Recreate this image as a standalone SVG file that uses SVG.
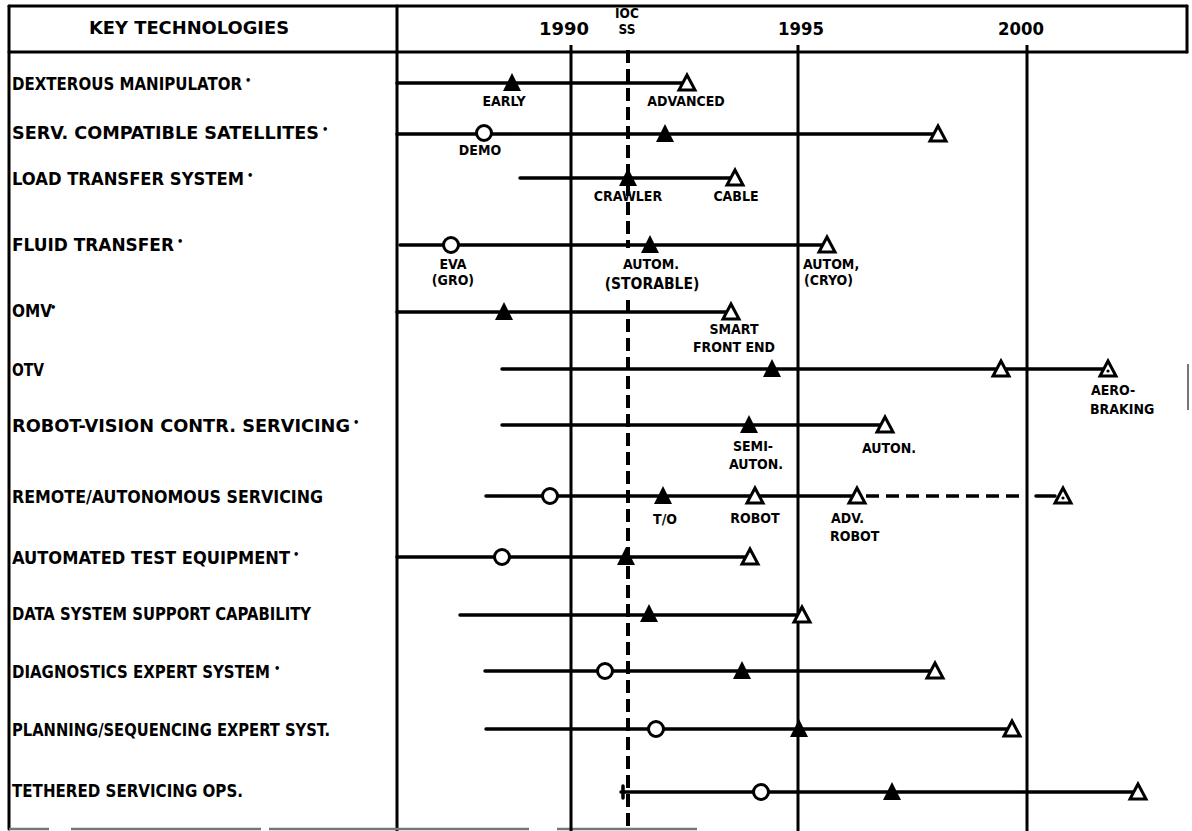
<svg xmlns="http://www.w3.org/2000/svg" xmlns:xlink="http://www.w3.org/1999/xlink" width="1192" height="831" viewBox="0 0 1192 831">
<style>
.bg{fill:#ffffff}
.frame{stroke:#000;stroke-width:3;fill:none;stroke-linecap:round}
.grid{stroke:#000;stroke-width:3;fill:none}
.ioc{stroke:#000;stroke-width:4;fill:none;stroke-dasharray:13 6}
.bar{stroke:#000;stroke-width:3.5;fill:none;stroke-linecap:round}
.dash{stroke:#000;stroke-width:3.5;fill:none;stroke-dasharray:13 7}
.lbl{font-family:"Liberation Sans Narrow","DejaVu Sans Condensed","Liberation Sans",sans-serif;font-weight:bold;font-size:17px;fill:#000}
.bul{font-family:"Liberation Sans Narrow","DejaVu Sans Condensed","Liberation Sans",sans-serif;font-weight:bold;font-size:11px;fill:#000}
.hdr{font-family:"Liberation Sans Narrow","DejaVu Sans Condensed","Liberation Sans",sans-serif;font-weight:bold;font-size:17px;fill:#000;text-anchor:middle}
.ioct{font-family:"Liberation Sans Narrow","DejaVu Sans Condensed","Liberation Sans",sans-serif;font-weight:bold;font-size:13.5px;fill:#000;text-anchor:middle}
.ms{font-family:"Liberation Sans Narrow","DejaVu Sans Condensed","Liberation Sans",sans-serif;font-weight:bold;font-size:14px;fill:#000;text-anchor:middle}
.msb{font-family:"Liberation Sans Narrow","DejaVu Sans Condensed","Liberation Sans",sans-serif;font-weight:bold;font-size:15.5px;fill:#000;text-anchor:middle}
.msl{font-family:"Liberation Sans Narrow","DejaVu Sans Condensed","Liberation Sans",sans-serif;font-weight:bold;font-size:14px;fill:#000}
</style>
<defs>
<path id="tf" d="M0,-10 L9,8 L-9,8 Z" fill="#000"/>
<path id="to" d="M0,-8 L8,7 L-8,7 Z" fill="#fff" stroke="#000" stroke-width="3" stroke-linejoin="miter"/>
<g id="td"><path d="M0,-8 L8,7 L-8,7 Z" fill="#fff" stroke="#000" stroke-width="3"/><circle cx="0" cy="2" r="1.6" fill="#000"/></g>
<circle id="co" r="7.5" fill="#fff" stroke="#000" stroke-width="3"/>
</defs>
<rect class="bg" x="0" y="0" width="1192" height="831"/>

<g id="frame">
<line class="frame" x1="9" y1="6" x2="1187" y2="6"/>
<line class="frame" x1="9" y1="6" x2="9" y2="829"/>
<line class="frame" x1="9" y1="52" x2="1187" y2="52"/>
<line class="frame" x1="397" y1="6" x2="397" y2="831"/>
<line class="frame" x1="1187" y1="6" x2="1187" y2="52"/>
<line x1="1188" y1="364" x2="1188" y2="410" stroke="#777" stroke-width="2"/>
<line x1="9" y1="829" x2="700" y2="829" stroke="#777" stroke-width="2.5" stroke-dasharray="40 22 190 8 260 28 140 30"/>
<text class="hdr" x="189" y="34" textLength="200" lengthAdjust="spacingAndGlyphs">KEY TECHNOLOGIES</text>
<text class="hdr" x="564" y="35" textLength="50" lengthAdjust="spacingAndGlyphs">1990</text>
<text class="ioct" x="627" y="18">IOC</text>
<text class="ioct" x="627" y="34">SS</text>
<text class="hdr" x="801" y="35" textLength="46" lengthAdjust="spacingAndGlyphs">1995</text>
<text class="hdr" x="1021" y="35" textLength="46" lengthAdjust="spacingAndGlyphs">2000</text>
</g>

<g id="grid">
<line class="grid" x1="571" y1="45" x2="571" y2="831"/>
<line class="grid" x1="798" y1="45" x2="798" y2="831"/>
<line class="grid" x1="1027" y1="45" x2="1027" y2="831"/>
<line class="ioc" x1="628" y1="50" x2="628" y2="248"/>
<line class="ioc" x1="628" y1="300" x2="628" y2="831"/>
</g>

<g id="connectors">
<line class="bar" x1="397" y1="83" x2="687" y2="83"/>
<line class="bar" x1="397" y1="134" x2="938" y2="134"/>
<line class="bar" x1="520" y1="178" x2="735" y2="178"/>
<line class="bar" x1="400" y1="245" x2="827" y2="245"/>
<line class="bar" x1="397" y1="312" x2="731" y2="312"/>
<line class="bar" x1="502" y1="369" x2="1108" y2="369"/>
<line class="bar" x1="502" y1="425" x2="885" y2="425"/>
<line class="bar" x1="486" y1="496" x2="860" y2="496"/>
<line class="dash" x1="866" y1="496" x2="1024" y2="496"/>
<line class="bar" x1="1036" y1="496" x2="1055" y2="496"/>
<line class="bar" x1="397" y1="557" x2="750" y2="557"/>
<line class="bar" x1="460" y1="615" x2="802" y2="615"/>
<line class="bar" x1="485" y1="671" x2="935" y2="671"/>
<line class="bar" x1="486" y1="729" x2="1012" y2="729"/>
<line class="bar" x1="621" y1="792" x2="1138" y2="792"/>
<line class="bar" x1="623" y1="786" x2="623" y2="798"/>
</g>

<g id="row-dexterous">
<text class="lbl" x="12" y="90" textLength="230" lengthAdjust="spacingAndGlyphs">DEXTEROUS MANIPULATOR</text>
<text class="bul" x="245" y="84">•</text>
<use href="#tf" x="512" y="83"/>
<use href="#to" x="687" y="83"/>
<text class="ms" x="504" y="106">EARLY</text>
<text class="ms" x="686" y="106">ADVANCED</text>
</g>

<g id="row-serv">
<text class="lbl" x="12" y="139" textLength="307" lengthAdjust="spacingAndGlyphs">SERV. COMPATIBLE SATELLITES</text>
<text class="bul" x="322" y="133">•</text>
<use href="#co" x="484" y="133"/>
<use href="#tf" x="665" y="134"/>
<use href="#to" x="938" y="134"/>
<text class="ms" x="480" y="155">DEMO</text>
</g>

<g id="row-load">
<text class="lbl" x="12" y="185" textLength="232" lengthAdjust="spacingAndGlyphs">LOAD TRANSFER SYSTEM</text>
<text class="bul" x="247" y="179">•</text>
<use href="#tf" x="628" y="178"/>
<use href="#to" x="735" y="178"/>
<text class="ms" x="628" y="201">CRAWLER</text>
<text class="ms" x="736" y="201">CABLE</text>
</g>

<g id="row-fluid">
<text class="lbl" x="12" y="251" textLength="162" lengthAdjust="spacingAndGlyphs">FLUID TRANSFER</text>
<text class="bul" x="177" y="245">•</text>
<use href="#co" x="451" y="245"/>
<use href="#tf" x="650" y="245"/>
<use href="#to" x="827" y="245"/>
<text class="ms" x="453" y="269">EVA</text>
<text class="ms" x="453" y="285">(GRO)</text>
<text class="ms" x="651" y="269">AUTOM.</text>
<text class="msb" x="652" y="289">(STORABLE)</text>
<text class="msl" x="803" y="269">AUTOM,</text>
<text class="msl" x="804" y="285">(CRYO)</text>
</g>

<g id="row-omv">
<text class="lbl" x="12" y="317">OMV</text>
<text class="bul" x="50" y="311">•</text>
<use href="#tf" x="504" y="312"/>
<use href="#to" x="731" y="312"/>
<text class="ms" x="734" y="334">SMART</text>
<text class="ms" x="734" y="352">FRONT END</text>
</g>

<g id="row-otv">
<text class="lbl" x="12" y="376" textLength="32" lengthAdjust="spacingAndGlyphs">OTV</text>
<use href="#tf" x="772" y="369"/>
<use href="#to" x="1001" y="369"/>
<use href="#td" x="1108" y="369"/>
<text class="msl" x="1091" y="395">AERO-</text>
<text class="msl" x="1090" y="414">BRAKING</text>
</g>

<g id="row-robot-vision">
<text class="lbl" x="12" y="432" textLength="338" lengthAdjust="spacingAndGlyphs">ROBOT-VISION CONTR. SERVICING</text>
<text class="bul" x="353" y="426">•</text>
<use href="#tf" x="749" y="425"/>
<use href="#to" x="885" y="425"/>
<text class="ms" x="753" y="451">SEMI-</text>
<text class="ms" x="756" y="469">AUTON.</text>
<text class="ms" x="889" y="453">AUTON.</text>
</g>

<g id="row-remote">
<text class="lbl" x="12" y="503" textLength="311" lengthAdjust="spacingAndGlyphs">REMOTE/AUTONOMOUS SERVICING</text>
<use href="#co" x="550" y="496"/>
<use href="#tf" x="663" y="496"/>
<use href="#to" x="755" y="496"/>
<use href="#to" x="857" y="496"/>
<use href="#td" x="1063" y="496"/>
<text class="ms" x="665" y="524">T/O</text>
<text class="ms" x="755" y="523">ROBOT</text>
<text class="msl" x="831" y="523">ADV.</text>
<text class="msl" x="830" y="541">ROBOT</text>
</g>

<g id="row-ate">
<text class="lbl" x="12" y="564" textLength="278" lengthAdjust="spacingAndGlyphs">AUTOMATED TEST EQUIPMENT</text>
<text class="bul" x="293" y="558">•</text>
<use href="#co" x="502" y="557"/>
<use href="#tf" x="626" y="557"/>
<use href="#to" x="750" y="557"/>
</g>

<g id="row-data">
<text class="lbl" x="12" y="620" textLength="299" lengthAdjust="spacingAndGlyphs">DATA SYSTEM SUPPORT CAPABILITY</text>
<use href="#tf" x="649" y="614"/>
<use href="#to" x="802" y="615"/>
</g>

<g id="row-diag">
<text class="lbl" x="12" y="678" textLength="258" lengthAdjust="spacingAndGlyphs">DIAGNOSTICS EXPERT SYSTEM</text>
<text class="bul" x="274" y="672">•</text>
<use href="#co" x="605" y="671"/>
<use href="#tf" x="742" y="671"/>
<use href="#to" x="935" y="671"/>
</g>

<g id="row-planning">
<text class="lbl" x="12" y="736" textLength="318" lengthAdjust="spacingAndGlyphs">PLANNING/SEQUENCING EXPERT SYST.</text>
<use href="#co" x="656" y="729"/>
<use href="#tf" x="799" y="729"/>
<use href="#to" x="1012" y="729"/>
</g>

<g id="row-tethered">
<text class="lbl" x="12" y="797" textLength="231" lengthAdjust="spacingAndGlyphs">TETHERED SERVICING OPS.</text>
<use href="#co" x="761" y="792"/>
<use href="#tf" x="892" y="792"/>
<use href="#to" x="1138" y="792"/>
</g>
</svg>
